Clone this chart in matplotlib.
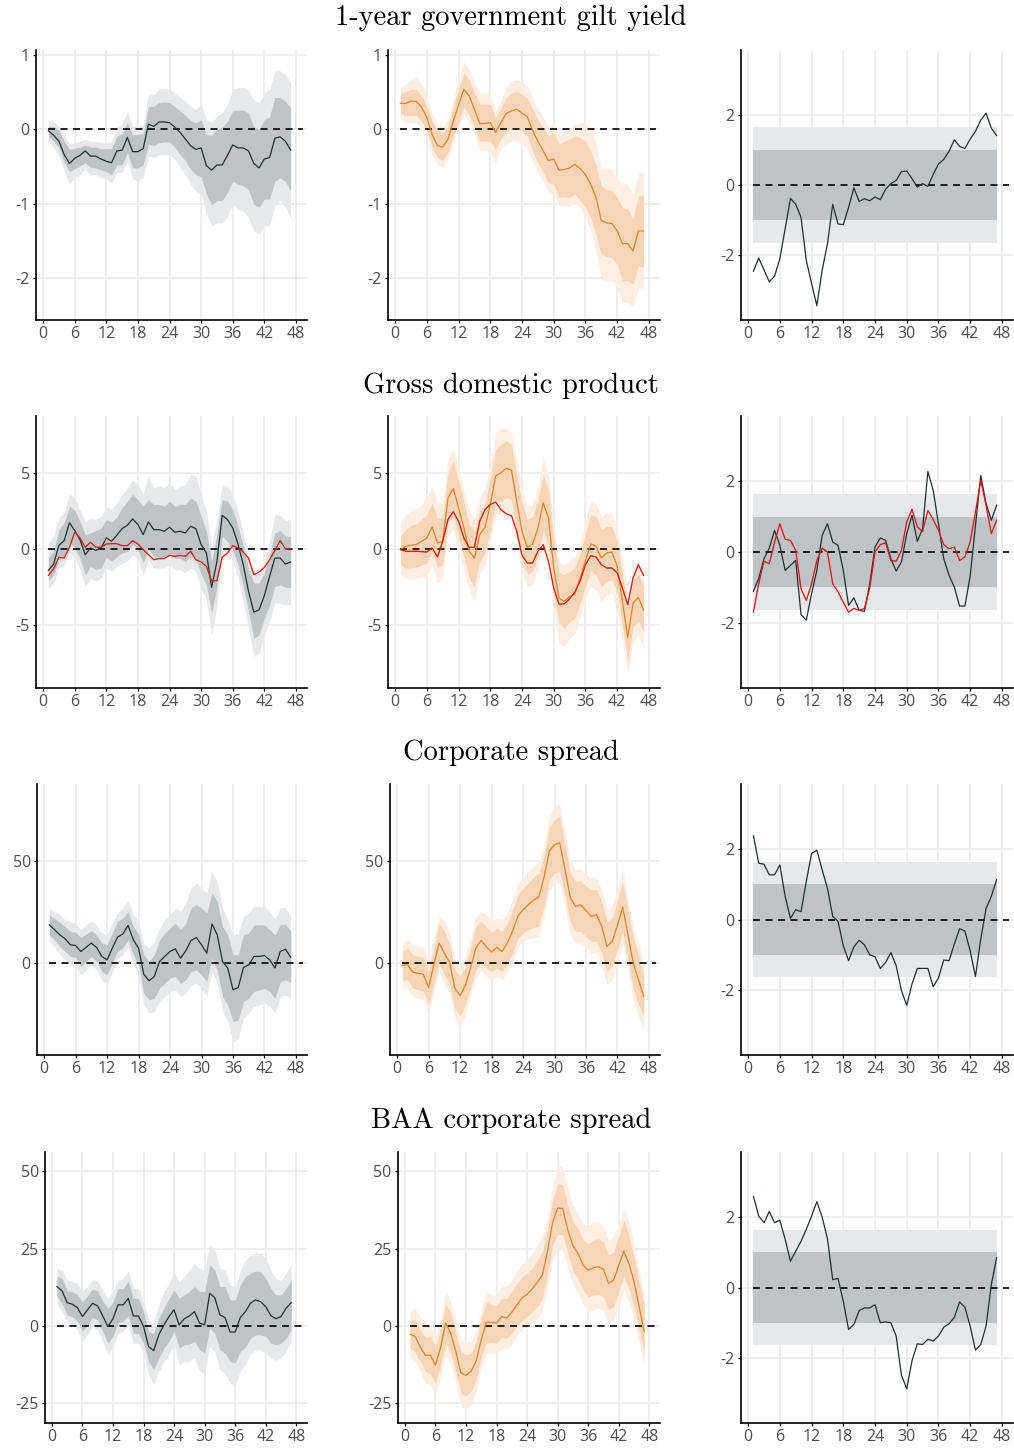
import numpy as np
import matplotlib
matplotlib.use("Agg")
import matplotlib.pyplot as plt

# ---------------------------------------------------------------- data
horizon = list(range(1, 48))

titles = ["1-year government gilt yield", "Gross domestic product",
          "Corporate spread", "BAA corporate spread"]

# --- 1-year gilt: VAR response (left) -------------------------------
gilt_var = [-0.02,-0.08,-0.16,-0.34,-0.46,-0.39,-0.35,-0.29,-0.36,-0.36,-0.40,-0.43,-0.45,-0.29,-0.28,-0.11,-0.30,-0.30,-0.26,0.07,0.04,0.10,0.10,0.09,0.03,-0.04,-0.13,-0.22,-0.27,-0.25,-0.49,-0.55,-0.48,-0.48,-0.35,-0.21,-0.25,-0.25,-0.29,-0.46,-0.52,-0.40,-0.38,-0.12,-0.10,-0.16,-0.28]
gilt_var_68_hi = [0.04,0.04,-0.01,-0.16,-0.27,-0.25,-0.24,-0.21,-0.24,-0.24,-0.26,-0.26,-0.26,-0.09,-0.06,0.09,-0.07,-0.07,-0.06,0.31,0.31,0.36,0.37,0.36,0.31,0.25,0.19,0.12,0.09,0.13,-0.07,-0.08,0.00,0.03,0.11,0.25,0.26,0.26,0.22,0.04,0.00,0.13,0.17,0.43,0.43,0.38,0.29]
gilt_var_68_lo = [-0.09,-0.16,-0.25,-0.45,-0.57,-0.53,-0.49,-0.45,-0.51,-0.52,-0.55,-0.57,-0.61,-0.48,-0.48,-0.31,-0.52,-0.52,-0.48,-0.20,-0.22,-0.18,-0.17,-0.17,-0.24,-0.34,-0.42,-0.54,-0.61,-0.64,-0.87,-1.02,-0.96,-0.96,-0.85,-0.70,-0.74,-0.76,-0.81,-1.01,-1.05,-0.94,-0.94,-0.70,-0.65,-0.70,-0.83]
gilt_var_90_hi = [0.12,0.11,0.04,-0.09,-0.20,-0.18,-0.16,-0.13,-0.16,-0.16,-0.18,-0.18,-0.16,0.02,0.07,0.24,0.04,0.04,0.06,0.49,0.47,0.54,0.55,0.54,0.49,0.43,0.38,0.31,0.27,0.34,0.13,0.09,0.18,0.22,0.34,0.54,0.56,0.57,0.52,0.40,0.36,0.49,0.54,0.79,0.79,0.74,0.63]
gilt_var_90_lo = [-0.16,-0.24,-0.36,-0.56,-0.74,-0.65,-0.61,-0.54,-0.61,-0.61,-0.65,-0.66,-0.73,-0.58,-0.58,-0.43,-0.67,-0.69,-0.65,-0.36,-0.38,-0.34,-0.34,-0.34,-0.40,-0.51,-0.61,-0.74,-0.83,-0.87,-1.14,-1.30,-1.26,-1.26,-1.17,-1.01,-1.08,-1.10,-1.19,-1.37,-1.41,-1.30,-1.30,-1.03,-0.96,-1.05,-1.21]

# --- 1-year gilt: alternative model (middle) ------------------------
gilt_alt = [0.35,0.35,0.38,0.38,0.30,0.16,-0.07,-0.22,-0.24,-0.13,0.11,0.33,0.54,0.45,0.27,0.08,0.08,0.09,-0.04,0.09,0.21,0.25,0.27,0.22,0.17,-0.01,-0.16,-0.29,-0.42,-0.40,-0.55,-0.54,-0.52,-0.47,-0.53,-0.61,-0.74,-0.92,-1.23,-1.26,-1.27,-1.37,-1.54,-1.54,-1.64,-1.37,-1.37]
gilt_alt_68_hi = [0.48,0.51,0.54,0.54,0.46,0.31,0.11,-0.02,-0.04,0.04,0.31,0.54,0.76,0.67,0.49,0.34,0.34,0.34,0.16,0.29,0.43,0.49,0.52,0.47,0.42,0.27,0.13,0.02,-0.09,-0.04,-0.20,-0.16,-0.13,-0.09,-0.11,-0.16,-0.29,-0.49,-0.76,-0.81,-0.83,-0.92,-1.05,-1.08,-1.21,-0.90,-0.88]
gilt_alt_68_lo = [0.22,0.18,0.19,0.19,0.11,-0.02,-0.24,-0.38,-0.42,-0.31,-0.09,0.09,0.30,0.19,0.03,-0.16,-0.16,-0.16,-0.27,-0.13,-0.02,0.01,0.01,-0.02,-0.09,-0.29,-0.45,-0.58,-0.72,-0.74,-0.92,-0.91,-0.92,-0.87,-0.96,-1.05,-1.19,-1.41,-1.69,-1.71,-1.73,-1.82,-2.04,-2.04,-2.09,-1.84,-1.86]
gilt_alt_90_hi = [0.56,0.61,0.67,0.70,0.61,0.43,0.22,0.07,0.04,0.13,0.43,0.67,0.91,0.81,0.63,0.49,0.49,0.49,0.25,0.38,0.56,0.65,0.67,0.65,0.58,0.43,0.27,0.16,0.04,0.09,-0.09,-0.02,0.01,0.07,0.09,0.09,0.02,-0.18,-0.52,-0.52,-0.54,-0.65,-0.74,-0.74,-0.87,-0.58,-0.58]
gilt_alt_90_lo = [0.13,0.09,0.09,0.09,0.02,-0.11,-0.34,-0.47,-0.52,-0.40,-0.16,0.02,0.21,0.09,-0.07,-0.29,-0.29,-0.31,-0.45,-0.25,-0.20,-0.16,-0.16,-0.20,-0.27,-0.43,-0.58,-0.70,-0.85,-0.87,-1.03,-1.03,-1.03,-1.01,-1.05,-1.19,-1.37,-1.64,-2.02,-2.04,-2.04,-2.13,-2.33,-2.33,-2.40,-2.13,-2.15]

# --- 1-year gilt: standardised difference (right) -------------------
gilt_diff = [-2.46,-2.08,-2.42,-2.76,-2.60,-2.10,-1.25,-0.38,-0.55,-0.92,-2.15,-2.81,-3.44,-2.43,-1.68,-0.55,-1.11,-1.13,-0.64,-0.08,-0.47,-0.39,-0.45,-0.34,-0.42,-0.12,0.04,0.13,0.38,0.40,0.18,-0.06,0.04,-0.04,0.30,0.60,0.73,0.96,1.29,1.10,1.04,1.31,1.53,1.85,2.05,1.62,1.41]

# --- GDP: VAR response (left) ---------------------------------------
gdp_var = [-1.42,-1.00,0.24,0.55,1.73,1.22,0.62,-0.38,0.07,-0.09,0.07,0.73,0.51,0.91,1.35,1.57,1.99,1.62,0.95,1.79,1.28,1.28,1.17,1.44,1.11,1.17,1.06,1.50,1.35,0.29,-0.27,-2.54,-0.82,2.23,1.95,1.39,0.33,-1.04,-2.81,-4.18,-4.03,-3.08,-1.81,-0.60,-0.60,-1.00,-0.86]
gdp_var_68_hi = [-0.55,-0.15,1.28,1.73,2.83,2.54,1.84,0.95,1.06,1.22,1.35,1.95,1.79,2.10,2.72,3.16,3.61,3.27,2.83,3.27,2.94,2.94,2.83,3.16,2.83,2.94,2.94,3.38,3.16,2.17,1.17,-0.82,0.95,3.27,3.16,2.61,1.50,0.18,-1.37,-2.26,-2.26,-1.59,-0.38,1.06,1.22,0.84,0.84]
gdp_var_68_lo = [-2.10,-1.70,-0.71,-0.49,0.51,0.07,-0.60,-1.70,-1.15,-1.37,-1.26,-0.55,-0.82,-0.49,-0.27,-0.15,0.33,-0.04,-0.93,0.02,-0.49,-0.55,-0.55,-0.38,-0.60,-0.64,-0.82,-0.49,-0.64,-1.70,-2.37,-4.25,-2.48,0.84,0.50,-0.04,-1.04,-2.48,-4.14,-5.91,-5.69,-4.58,-3.70,-2.48,-2.37,-2.54,-2.54]
gdp_var_90_hi = [0.40,0.84,2.06,2.39,3.65,3.38,2.61,1.79,2.06,1.95,2.17,2.77,2.61,3.05,3.61,4.05,4.60,4.27,3.65,4.82,4.05,4.16,4.05,4.38,3.94,4.16,4.27,4.93,4.82,3.61,2.50,0.18,1.95,4.27,4.16,3.61,2.50,1.06,-0.60,-1.59,-1.59,-0.82,0.51,2.28,2.23,1.84,1.99]
gdp_var_90_lo = [-2.59,-2.26,-1.26,-1.04,-0.15,-0.60,-1.37,-2.48,-1.92,-2.14,-1.92,-1.26,-1.48,-1.15,-0.93,-0.82,-0.38,-0.71,-1.70,-0.71,-1.26,-1.26,-1.26,-1.04,-1.37,-1.37,-1.59,-1.26,-1.48,-2.59,-3.36,-5.69,-3.81,-0.15,-0.15,-0.82,-1.92,-3.47,-5.24,-7.12,-6.90,-5.69,-4.80,-3.58,-3.58,-3.70,-3.70]
gdp_var_red = [-1.75,-1.31,-0.55,-0.60,0.11,1.11,0.73,0.11,0.44,0.13,0.11,0.33,0.35,0.35,0.22,0.22,0.55,0.33,-0.04,-0.38,-0.71,-0.64,-0.64,-0.42,-0.49,-0.42,-0.49,-0.15,-0.71,-0.86,-1.15,-2.10,-2.10,-0.55,-0.27,0.22,0.07,-0.20,-0.60,-1.70,-1.53,-1.22,-0.71,-0.11,0.55,0.00,0.02]

# --- GDP: alternative model (middle) --------------------------------
gdp_alt = [-0.04,0.18,0.24,0.29,0.51,0.73,1.46,0.40,0.51,3.38,4.00,2.72,1.39,-0.15,-0.60,0.95,1.44,2.94,4.82,5.04,5.33,5.22,3.16,1.17,0.11,0.33,1.35,3.05,2.06,-1.26,-3.25,-3.47,-3.14,-2.99,-1.92,-0.77,0.33,0.18,-0.60,-0.27,-0.20,-1.15,-3.47,-5.86,-3.58,-3.21,-4.03]
gdp_alt_68_hi = [0.84,1.28,1.57,1.66,1.95,2.28,3.05,2.06,2.06,5.04,5.82,4.54,3.16,1.62,1.17,2.50,3.05,4.71,6.59,6.92,7.15,6.92,4.93,3.05,1.95,2.17,3.16,4.93,3.94,0.73,-1.59,-1.70,-1.48,-1.22,-0.27,1.06,2.28,2.17,1.28,1.50,1.50,0.51,-1.70,-3.92,-2.15,-1.59,-2.48]
gdp_alt_68_lo = [-1.04,-1.26,-1.26,-1.19,-1.08,-0.93,-0.15,-1.22,-1.04,1.73,2.17,0.84,-0.49,-1.92,-2.48,-0.82,-0.27,1.17,3.05,3.16,3.38,3.27,1.28,-0.60,-1.70,-1.48,-0.38,1.17,0.29,-3.03,-4.91,-5.24,-4.80,-4.58,-3.58,-2.48,-1.48,-1.70,-2.48,-2.15,-2.04,-2.81,-5.13,-7.46,-5.13,-4.80,-5.46]
gdp_alt_90_hi = [1.73,2.28,2.54,2.68,2.94,3.34,4.16,3.05,3.05,6.04,6.59,5.38,3.94,2.50,2.06,3.38,4.05,5.60,7.70,8.03,8.03,7.70,5.93,3.94,2.83,2.94,4.05,6.04,4.93,1.62,-0.82,-1.04,-0.71,-0.49,0.51,1.95,3.16,2.99,2.17,2.39,2.39,1.39,-0.82,-3.03,-1.48,-0.82,-1.70]
gdp_alt_90_lo = [-1.70,-1.92,-2.04,-1.92,-1.88,-1.81,-1.04,-2.26,-1.92,0.84,1.28,-0.04,-1.37,-2.70,-3.47,-1.70,-1.04,0.40,2.17,2.39,2.50,2.39,0.51,-1.48,-2.48,-2.37,-1.26,0.29,-0.60,-3.92,-6.24,-6.46,-5.91,-5.58,-4.47,-3.25,-2.48,-2.70,-3.47,-3.03,-2.92,-3.92,-6.13,-8.34,-6.13,-5.69,-6.57]
gdp_alt_red = [-0.04,-0.15,-0.15,-0.15,-0.18,-0.20,0.07,-0.53,0.51,1.95,2.46,1.84,0.73,0.11,0.11,1.84,2.61,2.94,3.10,2.61,2.32,2.21,1.17,-0.42,-0.93,-0.93,-0.15,0.29,-0.82,-2.59,-3.65,-3.63,-3.30,-2.85,-2.10,-1.04,-0.44,-0.53,-1.04,-1.26,-1.26,-1.59,-2.59,-3.69,-1.92,-1.04,-1.75]

# --- GDP: standardised difference (right) ---------------------------
gdp_diff = [-1.11,-0.75,-0.19,0.11,0.61,0.19,-0.52,-0.38,-0.24,-1.77,-1.93,-1.18,-0.52,0.47,0.80,0.28,0.19,-0.52,-1.51,-1.30,-1.65,-1.68,-0.90,0.14,0.40,0.33,-0.19,-0.54,-0.28,0.52,1.04,0.30,0.66,2.28,1.75,0.80,-0.19,-0.66,-0.99,-1.53,-1.53,-0.68,0.75,2.17,1.37,0.90,1.32]
gdp_diff_red = [-1.70,-0.90,-0.26,-0.33,0.28,0.80,0.36,0.33,0.05,-1.04,-1.37,-0.90,-0.24,0.11,0.00,-0.90,-1.13,-1.42,-1.70,-1.60,-1.65,-1.60,-1.02,0.00,0.21,0.26,-0.24,-0.26,0.05,0.85,1.21,0.71,0.58,1.18,0.92,0.61,0.21,0.09,0.14,-0.24,-0.14,0.28,1.13,2.03,1.32,0.52,0.90]

# --- Corporate spread: VAR response (left) --------------------------
corp_var = [18.7,16.3,13.8,11.9,9.0,8.6,5.7,7.7,9.8,7.7,3.3,1.6,7.3,12.7,14.2,18.4,11.4,7.3,-5.4,-8.6,-6.5,0.8,3.3,5.7,7.0,2.4,6.0,11.1,12.5,9.0,4.9,19.1,13.8,0.8,-2.4,-13.0,-11.9,-2.1,-0.8,3.3,3.3,3.7,1.6,-2.4,5.7,6.8,2.8]
corp_var_68_hi = [23.6,21.7,20.0,17.9,15.5,15.2,12.5,14.2,15.8,13.8,9.8,9.0,14.7,20.4,22.0,25.2,17.9,14.2,4.1,0.8,4.1,11.4,14.7,17.1,19.5,16.3,19.5,26.9,28.5,26.9,24.4,34.2,30.1,17.9,13.8,4.1,4.1,13.8,14.7,18.7,18.7,18.7,16.3,13.8,18.7,19.1,15.5]
corp_var_68_lo = [13.8,11.4,8.1,5.7,3.3,2.8,-1.6,0.8,3.3,0.8,-4.1,-5.7,0.0,5.7,7.3,11.4,4.1,-0.8,-14.7,-17.9,-17.1,-12.2,-9.8,-7.3,-6.5,-9.8,-8.1,-4.1,-3.3,-5.7,-9.0,2.4,-3.3,-16.3,-20.4,-28.5,-27.7,-18.7,-17.1,-13.8,-13.0,-12.2,-13.8,-17.1,-9.0,-8.1,-9.3]
corp_var_90_hi = [26.9,25.2,23.6,21.2,20.4,19.5,16.3,18.7,20.7,18.7,14.7,13.8,19.5,24.4,26.9,30.9,23.6,20.4,9.8,7.3,10.6,17.1,21.2,23.6,26.9,25.2,29.3,36.6,39.1,36.6,34.2,44.8,39.9,26.9,21.2,13.8,14.7,22.8,24.4,27.7,27.7,27.7,25.2,21.2,27.2,26.9,22.8]
corp_var_90_lo = [10.9,8.1,4.1,1.6,-0.8,-1.6,-5.7,-3.3,-0.8,-3.3,-8.1,-10.6,-4.1,2.4,4.1,8.1,-0.8,-5.7,-20.4,-24.4,-23.6,-18.7,-16.3,-13.8,-13.0,-16.3,-14.7,-10.6,-9.8,-12.2,-16.3,-4.1,-9.8,-23.6,-28.5,-38.3,-36.6,-26.9,-24.4,-21.2,-20.4,-19.5,-21.2,-24.4,-16.3,-15.5,-17.1]

# --- Corporate spread: alternative model (middle) -------------------
corp_alt = [-1.1,-0.8,-4.4,-4.9,-5.4,-11.9,-0.8,9.8,4.9,0.5,-12.2,-15.8,-10.9,-2.4,7.3,11.1,8.1,5.4,7.7,5.7,9.8,15.5,22.8,26.1,28.5,30.9,32.2,41.9,54.6,57.8,58.6,45.6,32.1,27.7,28.5,25.6,22.8,23.6,17.9,8.1,10.6,18.7,27.2,13.8,0.0,-8.1,-16.3]
corp_alt_68_hi = [5.7,7.3,4.1,3.3,2.8,-4.1,7.3,19.5,15.5,9.8,-3.3,-6.5,-1.6,7.3,17.9,20.4,17.9,14.7,17.1,15.5,19.5,26.1,33.4,36.6,39.1,41.9,44.0,52.1,66.0,70.0,71.7,57.8,44.0,39.9,40.2,37.5,35.8,35.8,30.1,20.4,22.0,30.9,39.9,26.1,13.0,4.1,-5.7]
corp_alt_68_lo = [-8.6,-8.1,-12.2,-13.0,-13.5,-20.4,-9.8,0.0,-5.7,-9.8,-22.0,-25.6,-20.4,-12.2,-3.3,0.8,-2.4,-4.1,-2.1,-4.1,0.0,4.9,12.2,14.7,16.3,17.4,17.9,27.7,40.7,44.0,44.8,32.6,20.4,15.5,15.5,13.0,10.6,10.6,4.9,-4.1,-1.6,6.5,15.5,1.6,-12.2,-20.4,-25.2]
corp_alt_90_hi = [9.8,11.4,9.3,8.6,8.1,0.8,12.2,23.6,20.4,15.5,1.6,-1.6,3.3,12.2,22.8,25.2,23.6,20.4,22.0,21.2,24.4,30.9,38.3,41.5,44.8,47.2,49.7,57.8,71.7,76.5,77.4,64.3,50.5,45.6,46.1,43.2,41.9,41.5,35.8,26.1,28.2,36.6,45.6,30.9,17.9,9.8,0.0]
corp_alt_90_lo = [-12.2,-12.2,-16.3,-17.1,-17.9,-25.2,-13.8,-4.1,-9.8,-14.7,-26.9,-30.9,-25.2,-16.3,-7.3,-3.3,-6.5,-8.1,-6.5,-8.1,-4.1,0.8,8.1,10.6,11.9,12.5,12.5,22.8,35.8,38.6,39.1,26.9,13.8,9.8,9.8,7.3,4.9,4.9,-1.6,-10.6,-8.1,0.0,9.8,-4.1,-17.9,-26.1,-33.4]

# --- Corporate spread: standardised difference (right) --------------
corp_diff = [2.38,1.60,1.57,1.27,1.27,1.55,0.66,0.03,0.28,0.22,1.08,1.88,1.97,1.41,0.89,0.09,-0.05,-0.75,-1.17,-0.78,-0.59,-0.72,-1.00,-1.06,-1.39,-1.22,-0.94,-1.31,-2.02,-2.44,-1.83,-1.39,-1.39,-1.39,-1.91,-1.66,-1.15,-1.17,-0.70,-0.26,-0.33,-0.89,-1.62,-0.56,0.31,0.66,1.13]

# --- BAA spread: VAR response (left) --------------------------------
baa_var = [12.7,11.3,7.5,7.0,5.9,3.0,5.2,7.3,6.4,3.2,-0.2,2.3,6.8,6.8,8.9,3.2,3.2,-0.2,-6.7,-8.0,-2.9,0.3,3.0,5.2,0.3,2.3,3.2,4.6,0.9,0.3,10.5,9.1,3.5,2.7,-2.0,-2.0,2.7,4.6,7.3,8.4,7.8,6.2,3.3,2.3,3.0,5.7,7.5]
baa_var_68_hi = [16.1,15.3,11.3,11.1,10.2,7.8,9.8,11.9,11.3,8.0,5.7,7.8,12.1,12.1,14.5,8.9,8.9,4.6,-1.8,-2.4,2.5,5.7,8.9,11.6,8.9,10.0,11.1,12.7,11.1,11.1,19.7,18.0,12.7,12.7,8.4,8.4,13.2,15.9,17.0,17.7,17.5,15.3,12.1,10.0,10.0,12.1,14.8]
baa_var_68_lo = [9.4,7.3,3.5,3.0,1.6,-1.8,0.3,2.7,1.9,-1.8,-5.6,-3.4,1.2,1.4,3.3,-2.4,-2.4,-5.6,-11.5,-14.2,-10.4,-7.2,-5.0,-1.8,-7.2,-6.1,-5.9,-5.0,-7.7,-8.8,-0.8,-2.4,-7.7,-8.8,-11.5,-12.0,-8.3,-6.7,-4.0,-2.9,-2.9,-3.4,-5.6,-6.1,-5.6,-4.0,-1.3]
baa_var_90_hi = [18.6,18.0,14.8,14.3,13.7,11.1,12.7,15.1,14.3,11.6,8.9,11.1,14.8,15.3,17.7,12.1,12.1,7.8,1.9,0.9,6.8,11.1,13.7,17.5,14.3,15.9,18.0,20.2,18.6,18.0,26.1,24.5,18.6,18.0,13.2,12.7,18.0,21.2,22.9,23.7,23.4,21.8,18.0,15.3,14.8,17.0,20.0]
baa_var_90_lo = [6.8,4.6,1.4,0.3,-1.3,-5.0,-2.7,-0.2,-1.3,-5.0,-9.3,-6.7,-2.4,-1.8,0.3,-5.6,-5.6,-8.8,-15.8,-19.0,-14.7,-11.5,-9.3,-6.1,-12.6,-11.5,-11.5,-10.4,-14.7,-15.3,-6.7,-8.3,-14.2,-15.3,-18.5,-19.0,-14.7,-12.6,-9.3,-7.7,-7.7,-8.8,-10.4,-11.3,-10.4,-8.3,-5.0]

# --- BAA spread: alternative model (middle) -------------------------
baa_alt = [-2.7,-3.4,-6.7,-9.5,-9.5,-12.6,-7.2,0.9,-2.4,-8.3,-15.2,-16.0,-14.7,-11.3,-4.5,1.2,1.1,0.9,3.0,2.5,4.4,6.8,9.1,10.2,11.9,14.1,16.4,23.9,33.4,38.1,37.9,30.9,25.9,23.4,19.6,18.0,18.8,19.1,18.3,13.7,14.8,19.6,24.1,20.2,14.3,6.2,-1.8]
baa_alt_68_hi = [1.9,1.9,-1.3,-3.8,-3.4,-6.7,-1.3,7.3,4.1,-1.8,-8.3,-9.3,-8.8,-5.0,2.5,7.8,6.8,6.5,8.9,8.9,11.1,13.7,15.9,17.0,18.6,21.2,23.9,30.9,40.6,46.0,45.6,38.9,33.6,31.4,27.7,26.6,27.7,28.2,27.1,22.9,23.9,28.8,34.1,29.3,22.3,14.3,6.8]
baa_alt_68_lo = [-7.2,-8.3,-11.3,-14.7,-15.6,-18.5,-13.1,-5.6,-8.8,-14.7,-21.7,-22.7,-21.1,-17.4,-10.4,-5.6,-5.3,-5.6,-3.8,-4.0,-2.4,-0.2,1.9,3.0,4.6,6.2,8.9,16.4,26.1,29.5,29.5,23.4,18.0,15.3,11.6,9.4,10.0,10.2,9.4,5.2,6.2,11.1,15.9,12.1,6.2,-1.3,-8.8]
baa_alt_90_hi = [5.2,5.7,3.0,-0.2,-0.2,-3.4,2.5,11.1,7.8,1.9,-4.5,-5.6,-5.0,-1.3,5.7,11.1,10.0,10.0,12.7,13.0,14.8,18.0,20.2,21.2,23.4,26.1,29.3,35.7,45.4,51.8,51.3,44.8,38.9,36.3,33.0,32.5,33.6,33.6,32.0,27.7,28.8,33.0,38.4,33.6,26.1,18.0,10.0]
baa_alt_90_lo = [-9.9,-11.5,-14.7,-18.5,-19.0,-22.2,-16.8,-9.3,-12.6,-18.5,-26.0,-27.0,-25.4,-21.1,-13.6,-8.8,-8.8,-8.8,-7.2,-7.7,-6.1,-3.4,-1.3,-0.2,0.9,2.5,4.6,12.1,21.2,24.5,24.5,18.6,13.2,10.5,6.8,4.6,5.2,5.7,4.6,0.9,1.9,6.8,11.6,7.8,1.9,-5.6,-12.6]

# --- BAA spread: standardised difference (right) --------------------
baa_diff = [2.59,2.03,1.84,2.16,1.84,1.91,1.37,0.75,1.03,1.31,1.65,2.03,2.44,2.00,1.39,0.22,0.26,-0.39,-1.19,-1.05,-0.66,-0.58,-0.58,-0.49,-1.00,-0.98,-1.00,-1.38,-2.49,-2.88,-2.08,-1.60,-1.62,-1.47,-1.52,-1.38,-1.13,-1.03,-0.85,-0.41,-0.56,-1.10,-1.78,-1.62,-1.10,0.08,0.85]

# critical values shown as the shaded region in the right column
z_68 = 1.0
z_90 = 1.645

x_ticks = [0, 6, 12, 18, 24, 30, 36, 42, 48]
row_yticks = [[-2, -1, 0, 1], [-5, 0, 5], [0, 50], [-25, 0, 25, 50]]
row_ylims = [(-2.57, 1.07), (-9.2, 8.8), (-44.8, 87.4), (-31.4, 56.2)]
diff_yticks = [-2, 0, 2]
diff_ylim = (-3.85, 3.85)

# ---------------------------------------------------------------- style
plt.rcParams["font.family"] = ["Open Sans", "DejaVu Sans"]
plt.rcParams["axes.unicode_minus"] = False

GRID = "#ebebeb"
TICK_TXT = "#4d4d4d"
DARK = "#1f3030"
GREY_IN = "#bec4c5"
GREY_OUT = "#e7e8e9"
ORANGE = "#f0821e"
OR_IN = "#f8d5b6"
OR_OUT = "#fdeee1"
RED = "#ff0000"

W, H = 1014, 1454
fig = plt.figure(figsize=(W / 100, H / 100), dpi=100)

row_top = [50, 416, 784, 1152]
row_bot = [320, 688, 1055, 1423]
col_left = [[36, 388, 741], [36, 388, 741], [37, 390, 741], [45, 398, 741]]
col_right = [307, 660, 1013]
title_y = [18, 386, 753, 1121]


def make_axes(r, c):
    l = col_left[r][c]
    rr = col_right[c]
    ax = fig.add_axes([l / W, 1 - row_bot[r] / H, (rr - l) / W,
                       (row_bot[r] - row_top[r]) / H])
    ax.set_xlim(-1.35, 50.1)
    ax.set_xticks(x_ticks)
    for s in ["top", "right"]:
        ax.spines[s].set_visible(False)
    for s in ["left", "bottom"]:
        ax.spines[s].set_linewidth(1.2)
        ax.spines[s].set_color("black")
    ax.tick_params(axis="both", length=2.5, width=0.9, color="black",
                   labelsize=11.5, labelcolor=TICK_TXT, pad=2)
    ax.grid(True, color=GRID, linewidth=1.2, zorder=0)
    ax.set_axisbelow(True)
    return ax


def zero_line(ax):
    ax.plot([1, 49.3], [0, 0], color="black", lw=1.2,
            linestyle=(0, (4.2, 3.3)), zorder=5)


panels = [
    (gilt_var, gilt_var_68_lo, gilt_var_68_hi, gilt_var_90_lo, gilt_var_90_hi, None,
     gilt_alt, gilt_alt_68_lo, gilt_alt_68_hi, gilt_alt_90_lo, gilt_alt_90_hi, None,
     gilt_diff, None),
    (gdp_var, gdp_var_68_lo, gdp_var_68_hi, gdp_var_90_lo, gdp_var_90_hi, gdp_var_red,
     gdp_alt, gdp_alt_68_lo, gdp_alt_68_hi, gdp_alt_90_lo, gdp_alt_90_hi, gdp_alt_red,
     gdp_diff, gdp_diff_red),
    (corp_var, corp_var_68_lo, corp_var_68_hi, corp_var_90_lo, corp_var_90_hi, None,
     corp_alt, corp_alt_68_lo, corp_alt_68_hi, corp_alt_90_lo, corp_alt_90_hi, None,
     corp_diff, None),
    (baa_var, baa_var_68_lo, baa_var_68_hi, baa_var_90_lo, baa_var_90_hi, None,
     baa_alt, baa_alt_68_lo, baa_alt_68_hi, baa_alt_90_lo, baa_alt_90_hi, None,
     baa_diff, None),
]

x = np.array(horizon)
for r, p in enumerate(panels):
    (v, v68l, v68h, v90l, v90h, vred,
     a, a68l, a68h, a90l, a90h, ared, d, dred) = p

    # left: VAR impulse response with credible bands
    ax = make_axes(r, 0)
    ax.fill_between(x, v90l, v90h, color=GREY_OUT, lw=0, zorder=1)
    ax.fill_between(x, v68l, v68h, color=GREY_IN, lw=0, zorder=2)
    zero_line(ax)
    ax.plot(x, v, color=DARK, lw=0.9, zorder=6)
    if vred is not None:
        ax.plot(x, vred, color=RED, lw=0.9, zorder=7)
    ax.set_ylim(*row_ylims[r])
    ax.set_yticks(row_yticks[r])

    # middle: alternative model
    ax = make_axes(r, 1)
    ax.fill_between(x, a90l, a90h, color=OR_OUT, lw=0, zorder=1)
    ax.fill_between(x, a68l, a68h, color=OR_IN, lw=0, zorder=2)
    zero_line(ax)
    ax.plot(x, a, color=ORANGE, lw=0.9, zorder=6)
    if ared is not None:
        ax.plot(x, ared, color=RED, lw=0.9, zorder=7)
    ax.set_ylim(*row_ylims[r])
    ax.set_yticks(row_yticks[r])

    # right: standardised difference against critical values
    ax = make_axes(r, 2)
    ax.fill_between(x, -z_90, z_90, color=GREY_OUT, lw=0, zorder=1)
    ax.fill_between(x, -z_68, z_68, color=GREY_IN, lw=0, zorder=2)
    zero_line(ax)
    ax.plot(x, d, color=DARK, lw=0.9, zorder=6)
    if dred is not None:
        ax.plot(x, dred, color=RED, lw=0.9, zorder=7)
    ax.set_ylim(*diff_ylim)
    ax.set_yticks(diff_yticks)

    fig.text(511 / W, 1 - title_y[r] / H, titles[r], ha="center", va="center",
             fontsize=20.5, family=["cmr10", "DejaVu Serif"])

fig.savefig("out.png", dpi=100)
